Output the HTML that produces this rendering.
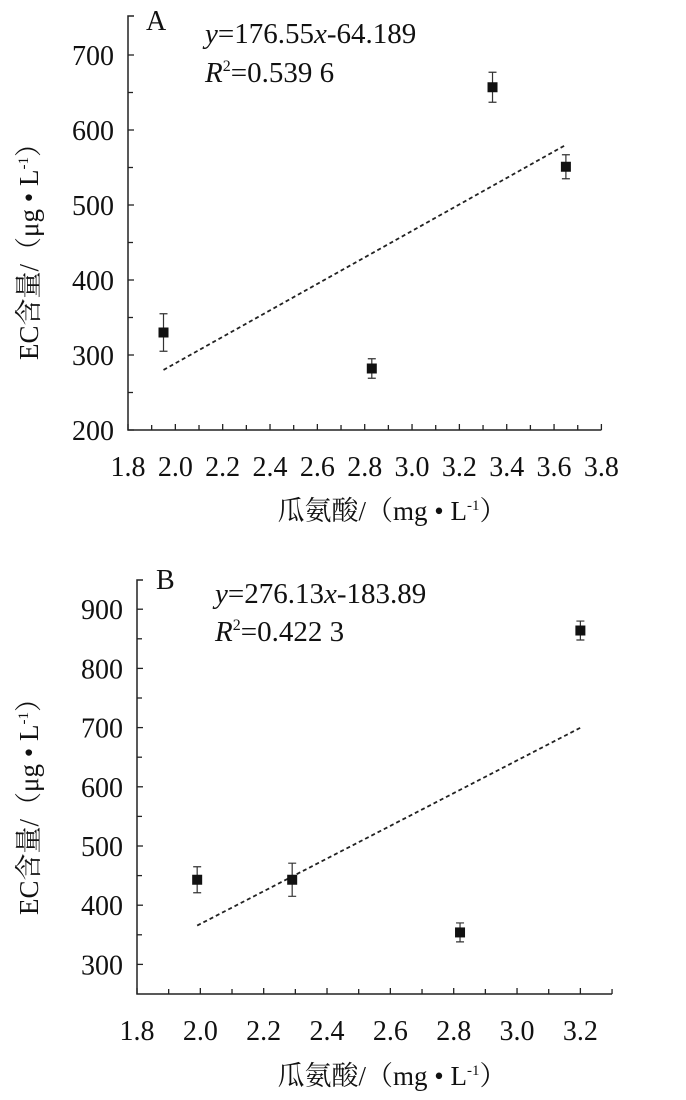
<!DOCTYPE html>
<html><head><meta charset="utf-8"><style>
html,body{margin:0;padding:0;background:#fff;}
svg text{font-family:"Liberation Serif","Noto Serif CJK SC",serif;fill:#111;}
</style></head><body>
<svg id="s" width="686" height="1095" viewBox="0 0 686 1095" xmlns="http://www.w3.org/2000/svg"></svg>
<script>
const NS="http://www.w3.org/2000/svg";
const svg=document.getElementById('s');
// Chart A data
const aX=[1.95,2.83,3.34,3.65];
const aY=[330,282,657,551];
const aErr=[25,13,20,16];
const aFit=[176.55,-64.189];
const aFitRange=[1.95,3.65];
const aYTicks=[200,300,400,500,600,700];
const aXTicks=[1.8,2.0,2.2,2.4,2.6,2.8,3.0,3.2,3.4,3.6,3.8];
// Chart B data
const bX=[1.99,2.29,2.82,3.20];
const bY=[443,443,354,864];
const bErr=[22,28,16,16];
const bFit=[276.13,-183.89];
const bFitRange=[1.99,3.20];
const bYTicks=[300,400,500,600,700,800,900];
const bXTicks=[1.8,2.0,2.2,2.4,2.6,2.8,3.0,3.2];

function el(tag,attrs,parent){const e=document.createElementNS(NS,tag);for(const k in attrs)e.setAttribute(k,attrs[k]);(parent||svg).appendChild(e);return e;}

function chart(cfg){
  const g=el('g',{});
  
  
  const sx=v=>cfg.x0+(v-cfg.xmin)*cfg.xs;
  const sy=v=>cfg.y0-(v-cfg.ymin)*cfg.ys;
  const xr=sx(cfg.xmax);
  const ax=el('path',{d:`M${cfg.x0+6},${cfg.top} H${cfg.x0} V${cfg.y0} H${xr}`,stroke:'#222','stroke-width':1.5,fill:'none'},g);
  
  
  cfg.yTicks.forEach((v,i)=>{
    const y=sy(v);
    el('line',{x1:cfg.x0,x2:cfg.x0+6,y1:y,y2:y,stroke:'#222','stroke-width':1.3},g);
    if(i<cfg.yTicks.length-1){const ym=sy(v+(cfg.yTicks[1]-cfg.yTicks[0])/2);el('line',{x1:cfg.x0,x2:cfg.x0+5,y1:ym,y2:ym,stroke:'#222','stroke-width':1.3},g);}
    const t=el('text',{x:cfg.x0-14,y:y+10,'text-anchor':'end','font-size':28},g);
    t.textContent=v;
    
    
  });
  cfg.xTicks.forEach((v,i)=>{
    const x=sx(v);
    el('line',{x1:x,x2:x,y1:cfg.y0,y2:cfg.y0-6,stroke:'#222','stroke-width':1.3},g);
    const xm=sx(v+0.1);
    if(xm<=xr+1)el('line',{x1:xm,x2:xm,y1:cfg.y0,y2:cfg.y0-5,stroke:'#222','stroke-width':1.3},g);
    const t=el('text',{x:x,y:cfg.y0+46,'text-anchor':'middle','font-size':28},g);
    t.textContent=v.toFixed(1);
    
    
  });
  const f=cfg.fit, r=cfg.fitRange;
  const fl=el('line',{x1:sx(r[0]),y1:sy(f[0]*r[0]+f[1]),x2:sx(r[1]),y2:sy(f[0]*r[1]+f[1]),stroke:'#222','stroke-width':1.8,'stroke-dasharray':'4,3'},g);
  
  
  cfg.xs_.forEach((xv,i)=>{
    const x=sx(xv),y=sy(cfg.ys_[i]),e1=sy(cfg.ys_[i]+cfg.err[i]),e2=sy(cfg.ys_[i]-cfg.err[i]);
    const eb=el('path',{d:`M${x},${e1}V${e2}M${x-4},${e1}H${x+4}M${x-4},${e2}H${x+4}`,stroke:'#333','stroke-width':1.2,fill:'none'},g);
    
    
    const p=el('rect',{x:x-5,y:y-5,width:10,height:10,fill:'#111'},g);
    
    
  });
  return g;
}
chart({name:'chart-a',x0:128,y0:430,top:16,xmin:1.8,xmax:3.8,xs:236.7,ymin:200,ys:0.75,yTicks:aYTicks,xTicks:aXTicks,fit:aFit,fitRange:aFitRange,xs_:aX,ys_:aY,err:aErr});
chart({name:'chart-b',x0:137,y0:994,top:580,xmin:1.8,xmax:3.3,xs:316.7,ymin:250,ys:0.592,yTicks:bYTicks,xTicks:bXTicks,fit:bFit,fitRange:bFitRange,xs_:bX,ys_:bY,err:bErr});
</script>
<svg width="686" height="1095" style="position:absolute;left:0;top:0" xmlns="http://www.w3.org/2000/svg">
<text x="146" y="30" font-size="28">A</text>
<text x="205" y="43" font-size="29"><tspan font-style="italic">y</tspan>=176.55<tspan font-style="italic">x</tspan>-64.189</text>
<text x="205" y="82" font-size="29"><tspan font-style="italic">R</tspan><tspan font-size="16" dy="-11">2</tspan><tspan dy="11">=0.539 6</tspan></text>
<text x="38" y="245" font-size="27" text-anchor="middle" transform="rotate(-90 38 245)">EC含量/（μg • L<tspan font-size="15" dy="-10">-1</tspan><tspan dy="10">）</tspan></text>
<text x="392" y="520" font-size="27" text-anchor="middle">瓜氨酸/（mg • L<tspan font-size="15" dy="-10">-1</tspan><tspan dy="10">）</tspan></text>
<text x="156" y="589" font-size="28">B</text>
<text x="215" y="603" font-size="29"><tspan font-style="italic">y</tspan>=276.13<tspan font-style="italic">x</tspan>-183.89</text>
<text x="215" y="641" font-size="29"><tspan font-style="italic">R</tspan><tspan font-size="16" dy="-11">2</tspan><tspan dy="11">=0.422 3</tspan></text>
<text x="38" y="800" font-size="27" text-anchor="middle" transform="rotate(-90 38 800)">EC含量/（μg • L<tspan font-size="15" dy="-10">-1</tspan><tspan dy="10">）</tspan></text>
<text x="392" y="1085" font-size="27" text-anchor="middle">瓜氨酸/（mg • L<tspan font-size="15" dy="-10">-1</tspan><tspan dy="10">）</tspan></text>
</svg>
</body></html>
